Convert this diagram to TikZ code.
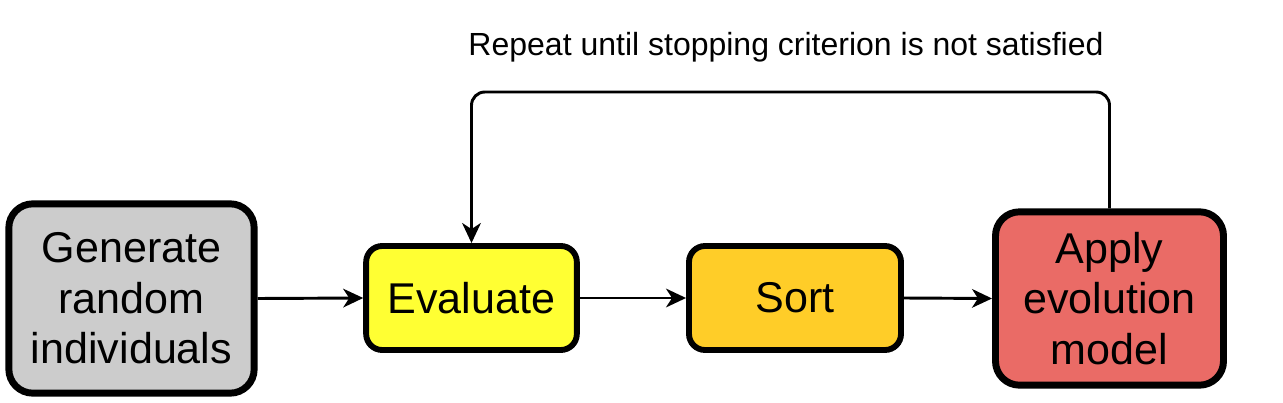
\documentclass[tikz,border=0pt]{standalone}
\usepackage{fontspec}
\setmainfont{Liberation Sans}
\usetikzlibrary{arrows.meta}
\definecolor{cgray}{HTML}{CCCCCC}
\definecolor{cyellow}{HTML}{FFFF33}
\definecolor{corange}{HTML}{FFCD28}
\definecolor{cred}{HTML}{EA6B66}
\tikzset{
  box/.style={draw=black, rounded corners=18pt, align=center, inner sep=0pt,
    font=\fontsize{32.3pt}{38pt}\selectfont},
  conn/.style={line width=2.2pt, -{Stealth[length=15pt,width=14pt,inset=4.5pt]}},
}
\begin{document}
\begin{tikzpicture}[x=0.75pt,y=-0.75pt]
\useasboundingbox (0,0) rectangle (1283,403);
\node[box, fill=cgray, line width=5.2pt, minimum width=184pt, minimum height=142pt] (gen) at (131.5,298.5) {Generate\\random\\individuals};
\node[box, fill=cyellow, line width=4.4pt, rounded corners=12pt, minimum width=158pt, minimum height=78pt] (eval) at (471.5,298) {Evaluate};
\node[box, fill=corange, line width=4.4pt, rounded corners=12pt, minimum width=159pt, minimum height=78pt] (sort) at (795,298) {Sort};
\node[box, fill=cred, line width=5.2pt, minimum width=171pt, minimum height=130pt] (apply) at (1109.5,298.5) {Apply\\evolution\\model};
\coordinate (top) at (0,92);
\node[font=\fontsize{24pt}{28pt}\selectfont] (lbl) at (786,47) {Repeat until stopping criterion is not satisfied};
\draw[conn] (gen.east) -- (eval.west);
\draw[conn] (eval.east) -- (sort.west);
\draw[conn] (sort.east) -- (apply.west);
\draw[conn, rounded corners=10pt] (apply.north) -- (apply.north |- top) -- (eval.north |- top) -- (eval.north);
\end{tikzpicture}
\end{document}
